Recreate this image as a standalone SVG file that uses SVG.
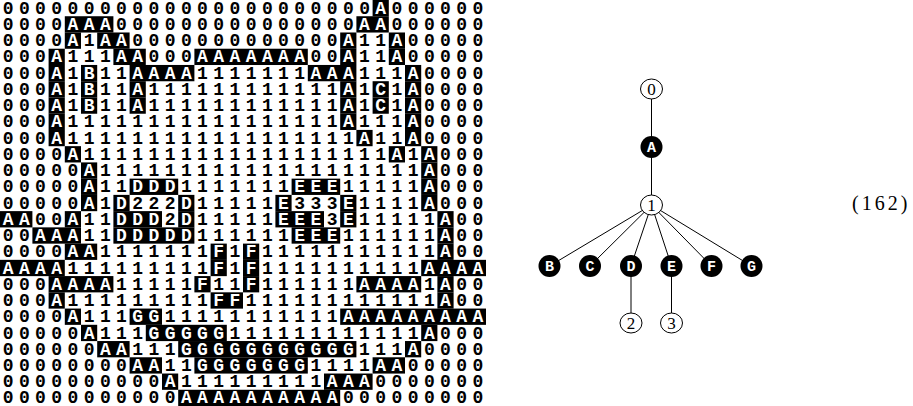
<svg xmlns="http://www.w3.org/2000/svg" width="913" height="406" viewBox="0 0 913 406">
<style>
.grid text{font-family:"Liberation Mono","DejaVu Sans Mono",monospace;font-size:18px;font-weight:bold;letter-spacing:5.4px;fill:#000}
.grid .w{fill:#fff}
.cells rect{fill:#000;height:16.3px}
.edge{stroke:#000;stroke-width:1;fill:none}
.on{fill:#fff;stroke:#000;stroke-width:1}
.bn{fill:#000}
.dl{font-family:"Liberation Serif","Times New Roman",serif;font-size:17px;text-anchor:middle;fill:#000}
.ll{font-family:"Liberation Mono","DejaVu Sans Mono",monospace;font-size:15px;font-weight:bold;text-anchor:middle;fill:#fff}
.eq{font-family:"Liberation Serif","Times New Roman",serif;font-size:20px;letter-spacing:3px;fill:#000}
</style>
<rect x="0" y="0" width="913" height="406" fill="#fff"/>
<g id="grid" class="grid">
<g class="cells">
<rect x="372.6" y="0" width="16.2"/>
<rect x="64.8" y="16.24" width="48.6"/><rect x="356.4" y="16.24" width="32.4"/>
<rect x="64.8" y="32.48" width="16.2"/><rect x="97.2" y="32.48" width="32.4"/><rect x="340.2" y="32.48" width="16.2"/><rect x="388.8" y="32.48" width="16.2"/>
<rect x="48.6" y="48.72" width="16.2"/><rect x="113.4" y="48.72" width="32.4"/><rect x="194.4" y="48.72" width="113.4"/><rect x="340.2" y="48.72" width="16.2"/><rect x="388.8" y="48.72" width="16.2"/>
<rect x="48.6" y="64.96" width="16.2"/><rect x="81" y="64.96" width="16.2"/><rect x="129.6" y="64.96" width="64.8"/><rect x="307.8" y="64.96" width="48.6"/><rect x="405" y="64.96" width="16.2"/>
<rect x="48.6" y="81.2" width="16.2"/><rect x="81" y="81.2" width="16.2"/><rect x="129.6" y="81.2" width="16.2"/><rect x="340.2" y="81.2" width="16.2"/><rect x="372.6" y="81.2" width="16.2"/><rect x="405" y="81.2" width="16.2"/>
<rect x="48.6" y="97.44" width="16.2"/><rect x="81" y="97.44" width="16.2"/><rect x="129.6" y="97.44" width="16.2"/><rect x="340.2" y="97.44" width="16.2"/><rect x="372.6" y="97.44" width="16.2"/><rect x="405" y="97.44" width="16.2"/>
<rect x="48.6" y="113.68" width="16.2"/><rect x="340.2" y="113.68" width="16.2"/><rect x="405" y="113.68" width="16.2"/>
<rect x="48.6" y="129.92" width="16.2"/><rect x="356.4" y="129.92" width="16.2"/><rect x="405" y="129.92" width="16.2"/>
<rect x="64.8" y="146.16" width="16.2"/><rect x="388.8" y="146.16" width="16.2"/><rect x="421.2" y="146.16" width="16.2"/>
<rect x="81" y="162.4" width="16.2"/><rect x="421.2" y="162.4" width="16.2"/>
<rect x="81" y="178.64" width="16.2"/><rect x="129.6" y="178.64" width="48.6"/><rect x="291.6" y="178.64" width="48.6"/><rect x="421.2" y="178.64" width="16.2"/>
<rect x="81" y="194.88" width="16.2"/><rect x="113.4" y="194.88" width="16.2"/><rect x="178.2" y="194.88" width="16.2"/><rect x="275.4" y="194.88" width="16.2"/><rect x="340.2" y="194.88" width="16.2"/><rect x="421.2" y="194.88" width="16.2"/>
<rect x="0" y="211.12" width="32.4"/><rect x="64.8" y="211.12" width="16.2"/><rect x="113.4" y="211.12" width="48.6"/><rect x="178.2" y="211.12" width="16.2"/><rect x="275.4" y="211.12" width="48.6"/><rect x="340.2" y="211.12" width="16.2"/><rect x="437.4" y="211.12" width="16.2"/>
<rect x="32.4" y="227.36" width="48.6"/><rect x="113.4" y="227.36" width="81"/><rect x="291.6" y="227.36" width="48.6"/><rect x="437.4" y="227.36" width="16.2"/>
<rect x="64.8" y="243.6" width="32.4"/><rect x="210.6" y="243.6" width="16.2"/><rect x="243" y="243.6" width="16.2"/><rect x="437.4" y="243.6" width="16.2"/>
<rect x="0" y="259.84" width="64.8"/><rect x="210.6" y="259.84" width="16.2"/><rect x="243" y="259.84" width="16.2"/><rect x="421.2" y="259.84" width="64.8"/>
<rect x="48.6" y="276.08" width="64.8"/><rect x="194.4" y="276.08" width="16.2"/><rect x="243" y="276.08" width="16.2"/><rect x="356.4" y="276.08" width="64.8"/><rect x="437.4" y="276.08" width="16.2"/>
<rect x="48.6" y="292.32" width="16.2"/><rect x="210.6" y="292.32" width="32.4"/><rect x="437.4" y="292.32" width="16.2"/>
<rect x="64.8" y="308.56" width="16.2"/><rect x="129.6" y="308.56" width="32.4"/><rect x="340.2" y="308.56" width="145.8"/>
<rect x="81" y="324.8" width="16.2"/><rect x="145.8" y="324.8" width="81"/><rect x="421.2" y="324.8" width="16.2"/>
<rect x="97.2" y="341.04" width="32.4"/><rect x="178.2" y="341.04" width="178.2"/><rect x="405" y="341.04" width="16.2"/>
<rect x="129.6" y="357.28" width="32.4"/><rect x="194.4" y="357.28" width="113.4"/><rect x="372.6" y="357.28" width="32.4"/>
<rect x="162" y="373.52" width="16.2"/><rect x="324" y="373.52" width="48.6"/>
<rect x="178.2" y="389.76" width="162"/>
</g>
<text y="13.7"><tspan x="2.7">00000000000000000000000</tspan><tspan class="w" x="375.3">A</tspan><tspan x="391.5">000000</tspan></text>
<text y="29.94"><tspan x="2.7">0000</tspan><tspan class="w" x="67.5">AAA</tspan><tspan x="116.1">000000000000000</tspan><tspan class="w" x="359.1">AA</tspan><tspan x="391.5">000000</tspan></text>
<text y="46.18"><tspan x="2.7">0000</tspan><tspan class="w" x="67.5">A</tspan><tspan x="83.7">1</tspan><tspan class="w" x="99.9">AA</tspan><tspan x="132.3">0000000000000</tspan><tspan class="w" x="342.9">A</tspan><tspan x="359.1">11</tspan><tspan class="w" x="391.5">A</tspan><tspan x="407.7">00000</tspan></text>
<text y="62.42"><tspan x="2.7">000</tspan><tspan class="w" x="51.3">A</tspan><tspan x="67.5">111</tspan><tspan class="w" x="116.1">AA</tspan><tspan x="148.5">000</tspan><tspan class="w" x="197.1">AAAAAAA</tspan><tspan x="310.5">00</tspan><tspan class="w" x="342.9">A</tspan><tspan x="359.1">11</tspan><tspan class="w" x="391.5">A</tspan><tspan x="407.7">00000</tspan></text>
<text y="78.66"><tspan x="2.7">000</tspan><tspan class="w" x="51.3">A</tspan><tspan x="67.5">1</tspan><tspan class="w" x="83.7">B</tspan><tspan x="99.9">11</tspan><tspan class="w" x="132.3">AAAA</tspan><tspan x="197.1">1111111</tspan><tspan class="w" x="310.5">AAA</tspan><tspan x="359.1">111</tspan><tspan class="w" x="407.7">A</tspan><tspan x="423.9">0000</tspan></text>
<text y="94.9"><tspan x="2.7">000</tspan><tspan class="w" x="51.3">A</tspan><tspan x="67.5">1</tspan><tspan class="w" x="83.7">B</tspan><tspan x="99.9">11</tspan><tspan class="w" x="132.3">A</tspan><tspan x="148.5">111111111111</tspan><tspan class="w" x="342.9">A</tspan><tspan x="359.1">1</tspan><tspan class="w" x="375.3">C</tspan><tspan x="391.5">1</tspan><tspan class="w" x="407.7">A</tspan><tspan x="423.9">0000</tspan></text>
<text y="111.14"><tspan x="2.7">000</tspan><tspan class="w" x="51.3">A</tspan><tspan x="67.5">1</tspan><tspan class="w" x="83.7">B</tspan><tspan x="99.9">11</tspan><tspan class="w" x="132.3">A</tspan><tspan x="148.5">111111111111</tspan><tspan class="w" x="342.9">A</tspan><tspan x="359.1">1</tspan><tspan class="w" x="375.3">C</tspan><tspan x="391.5">1</tspan><tspan class="w" x="407.7">A</tspan><tspan x="423.9">0000</tspan></text>
<text y="127.38"><tspan x="2.7">000</tspan><tspan class="w" x="51.3">A</tspan><tspan x="67.5">11111111111111111</tspan><tspan class="w" x="342.9">A</tspan><tspan x="359.1">111</tspan><tspan class="w" x="407.7">A</tspan><tspan x="423.9">0000</tspan></text>
<text y="143.62"><tspan x="2.7">000</tspan><tspan class="w" x="51.3">A</tspan><tspan x="67.5">111111111111111111</tspan><tspan class="w" x="359.1">A</tspan><tspan x="375.3">11</tspan><tspan class="w" x="407.7">A</tspan><tspan x="423.9">0000</tspan></text>
<text y="159.86"><tspan x="2.7">0000</tspan><tspan class="w" x="67.5">A</tspan><tspan x="83.7">1111111111111111111</tspan><tspan class="w" x="391.5">A</tspan><tspan x="407.7">1</tspan><tspan class="w" x="423.9">A</tspan><tspan x="440.1">000</tspan></text>
<text y="176.1"><tspan x="2.7">00000</tspan><tspan class="w" x="83.7">A</tspan><tspan x="99.9">11111111111111111111</tspan><tspan class="w" x="423.9">A</tspan><tspan x="440.1">000</tspan></text>
<text y="192.34"><tspan x="2.7">00000</tspan><tspan class="w" x="83.7">A</tspan><tspan x="99.9">11</tspan><tspan class="w" x="132.3">DDD</tspan><tspan x="180.9">1111111</tspan><tspan class="w" x="294.3">EEE</tspan><tspan x="342.9">11111</tspan><tspan class="w" x="423.9">A</tspan><tspan x="440.1">000</tspan></text>
<text y="208.58"><tspan x="2.7">00000</tspan><tspan class="w" x="83.7">A</tspan><tspan x="99.9">1</tspan><tspan class="w" x="116.1">D</tspan><tspan x="132.3">222</tspan><tspan class="w" x="180.9">D</tspan><tspan x="197.1">11111</tspan><tspan class="w" x="278.1">E</tspan><tspan x="294.3">333</tspan><tspan class="w" x="342.9">E</tspan><tspan x="359.1">1111</tspan><tspan class="w" x="423.9">A</tspan><tspan x="440.1">000</tspan></text>
<text y="224.82"><tspan class="w" x="2.7">AA</tspan><tspan x="35.1">00</tspan><tspan class="w" x="67.5">A</tspan><tspan x="83.7">11</tspan><tspan class="w" x="116.1">DDD</tspan><tspan x="164.7">2</tspan><tspan class="w" x="180.9">D</tspan><tspan x="197.1">11111</tspan><tspan class="w" x="278.1">EEE</tspan><tspan x="326.7">3</tspan><tspan class="w" x="342.9">E</tspan><tspan x="359.1">11111</tspan><tspan class="w" x="440.1">A</tspan><tspan x="456.3">00</tspan></text>
<text y="241.06"><tspan x="2.7">00</tspan><tspan class="w" x="35.1">AAA</tspan><tspan x="83.7">11</tspan><tspan class="w" x="116.1">DDDDD</tspan><tspan x="197.1">111111</tspan><tspan class="w" x="294.3">EEE</tspan><tspan x="342.9">111111</tspan><tspan class="w" x="440.1">A</tspan><tspan x="456.3">00</tspan></text>
<text y="257.3"><tspan x="2.7">0000</tspan><tspan class="w" x="67.5">AA</tspan><tspan x="99.9">1111111</tspan><tspan class="w" x="213.3">F</tspan><tspan x="229.5">1</tspan><tspan class="w" x="245.7">F</tspan><tspan x="261.9">11111111111</tspan><tspan class="w" x="440.1">A</tspan><tspan x="456.3">00</tspan></text>
<text y="273.54"><tspan class="w" x="2.7">AAAA</tspan><tspan x="67.5">111111111</tspan><tspan class="w" x="213.3">F</tspan><tspan x="229.5">1</tspan><tspan class="w" x="245.7">F</tspan><tspan x="261.9">1111111111</tspan><tspan class="w" x="423.9">AAAA</tspan></text>
<text y="289.78"><tspan x="2.7">000</tspan><tspan class="w" x="51.3">AAAA</tspan><tspan x="116.1">11111</tspan><tspan class="w" x="197.1">F</tspan><tspan x="213.3">11</tspan><tspan class="w" x="245.7">F</tspan><tspan x="261.9">111111</tspan><tspan class="w" x="359.1">AAAA</tspan><tspan x="423.9">1</tspan><tspan class="w" x="440.1">A</tspan><tspan x="456.3">00</tspan></text>
<text y="306.02"><tspan x="2.7">000</tspan><tspan class="w" x="51.3">A</tspan><tspan x="67.5">111111111</tspan><tspan class="w" x="213.3">FF</tspan><tspan x="245.7">111111111111</tspan><tspan class="w" x="440.1">A</tspan><tspan x="456.3">00</tspan></text>
<text y="322.26"><tspan x="2.7">0000</tspan><tspan class="w" x="67.5">A</tspan><tspan x="83.7">111</tspan><tspan class="w" x="132.3">GG</tspan><tspan x="164.7">11111111111</tspan><tspan class="w" x="342.9">AAAAAAAAA</tspan></text>
<text y="338.5"><tspan x="2.7">00000</tspan><tspan class="w" x="83.7">A</tspan><tspan x="99.9">111</tspan><tspan class="w" x="148.5">GGGGG</tspan><tspan x="229.5">111111111111</tspan><tspan class="w" x="423.9">A</tspan><tspan x="440.1">000</tspan></text>
<text y="354.74"><tspan x="2.7">000000</tspan><tspan class="w" x="99.9">AA</tspan><tspan x="132.3">111</tspan><tspan class="w" x="180.9">GGGGGGGGGGG</tspan><tspan x="359.1">111</tspan><tspan class="w" x="407.7">A</tspan><tspan x="423.9">0000</tspan></text>
<text y="370.98"><tspan x="2.7">00000000</tspan><tspan class="w" x="132.3">AA</tspan><tspan x="164.7">11</tspan><tspan class="w" x="197.1">GGGGGGG</tspan><tspan x="310.5">1111</tspan><tspan class="w" x="375.3">AA</tspan><tspan x="407.7">00000</tspan></text>
<text y="387.22"><tspan x="2.7">0000000000</tspan><tspan class="w" x="164.7">A</tspan><tspan x="180.9">111111111</tspan><tspan class="w" x="326.7">AAA</tspan><tspan x="375.3">0000000</tspan></text>
<text y="403.46"><tspan x="2.7">00000000000</tspan><tspan class="w" x="180.9">AAAAAAAAAA</tspan><tspan x="342.9">000000000</tspan></text>
</g>
<g id="connectors">
<line class="edge" x1="651.5" y1="89" x2="651.5" y2="147"/>
<line class="edge" x1="651.5" y1="147" x2="651.5" y2="205"/>
<line class="edge" x1="651.5" y1="205" x2="549.5" y2="266"/>
<line class="edge" x1="651.5" y1="205" x2="590" y2="266"/>
<line class="edge" x1="651.5" y1="205" x2="631" y2="266"/>
<line class="edge" x1="651.5" y1="205" x2="671.5" y2="266"/>
<line class="edge" x1="651.5" y1="205" x2="711.5" y2="266"/>
<line class="edge" x1="651.5" y1="205" x2="751.5" y2="266"/>
<line class="edge" x1="631" y1="266" x2="631" y2="323"/>
<line class="edge" x1="671.5" y1="266" x2="671.5" y2="323"/>
</g>
<g id="node-0"><ellipse class="on" cx="651.5" cy="89" rx="11" ry="10"/><text class="dl" x="651.5" y="94.8">0</text></g>
<g id="node-A"><circle class="bn" cx="651.5" cy="147" r="11"/><text class="ll" x="651.5" y="151.8">A</text></g>
<g id="node-1"><ellipse class="on" cx="651.5" cy="205" rx="11" ry="10"/><text class="dl" x="651.5" y="210.8">1</text></g>
<g id="node-B"><circle class="bn" cx="549.5" cy="266" r="11"/><text class="ll" x="549.5" y="270.8">B</text></g>
<g id="node-C"><circle class="bn" cx="590" cy="266" r="11"/><text class="ll" x="590" y="270.8">C</text></g>
<g id="node-D"><circle class="bn" cx="631" cy="266" r="11"/><text class="ll" x="631" y="270.8">D</text></g>
<g id="node-E"><circle class="bn" cx="671.5" cy="266" r="11"/><text class="ll" x="671.5" y="270.8">E</text></g>
<g id="node-F"><circle class="bn" cx="711.5" cy="266" r="11"/><text class="ll" x="711.5" y="270.8">F</text></g>
<g id="node-G"><circle class="bn" cx="751.5" cy="266" r="11"/><text class="ll" x="751.5" y="270.8">G</text></g>
<g id="node-2"><ellipse class="on" cx="631" cy="323" rx="11" ry="10"/><text class="dl" x="631" y="328.8">2</text></g>
<g id="node-3"><ellipse class="on" cx="671.5" cy="323" rx="11" ry="10"/><text class="dl" x="671.5" y="328.8">3</text></g>
<text class="eq" x="852" y="210">(162)</text>
</svg>
